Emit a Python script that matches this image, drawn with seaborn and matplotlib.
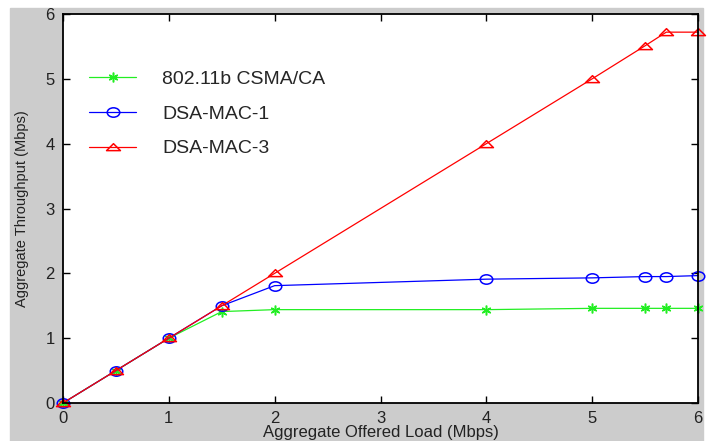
import matplotlib
matplotlib.use('Agg')
import matplotlib.pyplot as plt
import matplotlib.patches as mpatches
from matplotlib.path import Path
from matplotlib.transforms import Affine2D
import pandas as pd
import seaborn as sns

# datos
carga = [0, 0.5, 1, 1.5, 2, 4, 5, 5.5, 5.7, 6]
csma = [0, 0.5, 1, 1.41, 1.44, 1.44, 1.46, 1.46, 1.46, 1.46]
dsa1 = [0, 0.5, 1, 1.5, 1.81, 1.91, 1.93, 1.95, 1.95, 1.965]
dsa3 = [0, 0.5, 1, 1.5, 2, 4, 5, 5.51, 5.72, 5.72]

series = ['802.11b CSMA/CA', 'DSA-MAC-1', 'DSA-MAC-3']
valores = [csma, dsa1, dsa3]
colores = ['#22ee22', '#0000ff', '#ff0000']

# marcadores un poco achatados como en la imagen original
elipse = Path.unit_circle().transformed(Affine2D().scale(1.0, 0.75))
triangulo = Path([(-1, -0.45), (1, -0.45), (0, 0.55), (-1, -0.45)],
                 [Path.MOVETO, Path.LINETO, Path.LINETO, Path.CLOSEPOLY])
marcadores = [(6, 2, 0), elipse, triangulo]
tamanos = [7, 9, 10]

df = pd.concat([pd.DataFrame({'carga': carga, 'throughput': v, 'serie': s})
                for s, v in zip(series, valores)], ignore_index=True)

sns.set_style('ticks')
plt.rcParams['font.family'] = ['Liberation Sans', 'DejaVu Sans']

fig = plt.figure(figsize=(7.17, 4.41), dpi=100, facecolor='white')
# fondo gris tipo matlab
fig.patches.append(mpatches.Rectangle((10 / 717, 0), 693 / 717, 433 / 441,
                                      transform=fig.transFigure, color='#cccccc', zorder=-10))
ax = fig.add_axes([63 / 717, 1 - 403 / 441, 635 / 717, 389 / 441])
ax.set_zorder(5)
ax.set_facecolor('white')

for s, c, m, ms in zip(series, colores, marcadores, tamanos):
    sub = df[df['serie'] == s]
    sns.lineplot(data=sub, x='carga', y='throughput', ax=ax, color=c, linewidth=0.9,
                 marker=m, markersize=ms, markerfacecolor='none',
                 markeredgecolor=c, markeredgewidth=1.1, label=s, clip_on=False)

ax.set_xlim(0, 6)
ax.set_ylim(0, 6)
ax.set_xticks(range(7))
ax.set_yticks(range(7))
ax.tick_params(direction='in', top=True, right=True, length=5, width=1,
               labelsize=12, pad=6, colors='black', labelcolor='#222222')
for sp in ax.spines.values():
    sp.set_visible(True)
    sp.set_linewidth(1.3)
    sp.set_color('black')

ax.set_xlabel('Aggregate Offered Load (Mbps)', fontsize=12, labelpad=-1, color='#222222')
ax.set_ylabel('Aggregate Throughput (Mbps)', fontsize=10.5, labelpad=12, color='#222222')

ax.legend(loc='upper left', bbox_to_anchor=(0.041, 0.855), frameon=False,
          fontsize=14, handlelength=2.42, handletextpad=1.35, labelspacing=0.88,
          borderaxespad=0, borderpad=0)

fig.savefig('out.png', dpi=100, facecolor=fig.get_facecolor())
